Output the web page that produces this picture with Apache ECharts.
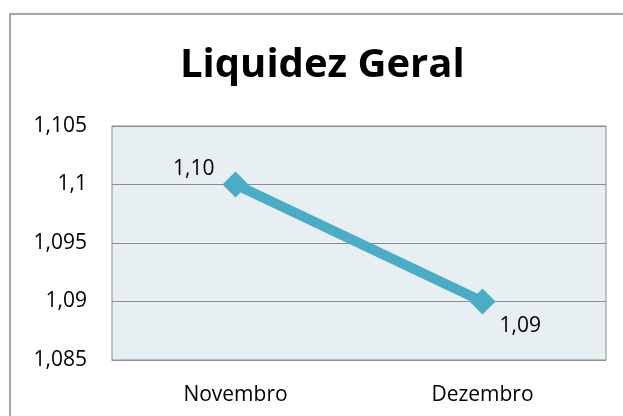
<!DOCTYPE html>
<html><head><meta charset="utf-8">
<script src="https://cdn.jsdelivr.net/npm/echarts@6/dist/echarts.min.js"></script>
<style>html,body{margin:0;padding:0;background:#fff}#c{width:623px;height:416px}</style>
</head><body><div id="c"></div>
<script>
const categories = ['Novembro', 'Dezembro'];
const values = [1.10, 1.09];
const yMin = 1.085, yMax = 1.105, yStep = 0.005;

const fmtAxis = v => String(Math.round(v * 1000) / 1000).replace('.', ',');
const fmtVal = v => v.toFixed(2).replace('.', ',');

const FONT = 'Open Sans';
const chart = echarts.init(document.getElementById('c'));
chart.setOption({
  animation: false,
  backgroundColor: '#fff',
  title: {
    text: 'Liquidez Geral', left: 175, top: 41,
    textStyle: { fontFamily: FONT, fontWeight: 'bold', fontSize: 40, color: '#000' }
  },
  graphic: [{
    type: 'rect', shape: { x: 10, y: 14, width: 640, height: 440 },
    style: { fill: 'none', stroke: '#8c8c8c', lineWidth: 1.5 }, silent: true, z: -1
  }],
  grid: { left: 112, right: 17, top: 126, bottom: 56, show: true, backgroundColor: '#e8eff3', borderColor: '#8c8c8c', borderWidth: 1 },
  xAxis: {
    type: 'category', data: categories, boundaryGap: true,
    axisLine: { show: true, lineStyle: { color: '#8c8c8c' } },
    axisTick: { show: false },
    axisLabel: { color: '#000', fontFamily: FONT, fontSize: 21, margin: 25 }
  },
  yAxis: {
    type: 'value', min: yMin, max: yMax, interval: yStep,
    axisLine: { show: false }, axisTick: { show: false },
    splitLine: { lineStyle: { color: '#8c8c8c', width: 1 } },
    axisLabel: { color: '#000', fontFamily: FONT, fontSize: 21, margin: 25, formatter: fmtAxis }
  },
  series: [{
    type: 'line',
    symbol: 'diamond', symbolSize: 26,
    lineStyle: { color: '#4bacc6', width: 10 },
    itemStyle: { color: '#4bacc6' },
    label: {
      show: true, color: '#000', fontFamily: FONT, fontSize: 21,
      formatter: p => fmtVal(p.value)
    },
    data: [
      { value: values[0], label: { position: 'left', offset: [-3, -15] } },
      { value: values[1], label: { position: 'right', offset: [-1, 25] } }
    ]
  }]
});
</script></body></html>
